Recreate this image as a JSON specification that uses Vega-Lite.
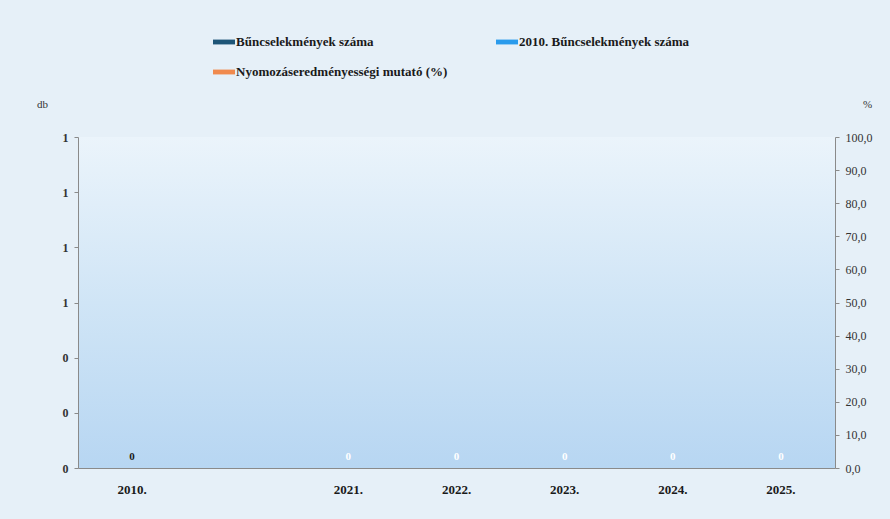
{
  "$schema": "https://vega.github.io/schema/vega-lite/v6.json",
  "width": 757,
  "height": 331,
  "autosize": {"type": "none"},
  "padding": {"left": 78, "top": 137, "right": 55, "bottom": 51},
  "background": "#e6f0f8",
  "config": {
    "font": "Liberation Serif",
    "view": {
      "stroke": null,
      "fill": {"gradient": "linear", "x1": 0, "y1": 0, "x2": 0, "y2": 1,
        "stops": [{"offset": 0, "color": "#ebf4fb"}, {"offset": 0.5, "color": "#d0e5f6"}, {"offset": 1, "color": "#b7d6f2"}]}
    },
    "axis": {"grid": false, "domainColor": "#8a8a8a", "tickColor": "#8a8a8a", "labelFont": "Liberation Serif", "labelColor": "#333333", "titleFont": "Liberation Serif"}
  },
  "data": {
    "values": [
      {"year": "2010.", "series": "Bűncselekmények száma", "value": 0},
      {"year": "2021.", "series": "Bűncselekmények száma", "value": 0},
      {"year": "2022.", "series": "Bűncselekmények száma", "value": 0},
      {"year": "2023.", "series": "Bűncselekmények száma", "value": 0},
      {"year": "2024.", "series": "Bűncselekmények száma", "value": 0},
      {"year": "2025.", "series": "Bűncselekmények száma", "value": 0},
      {"year": "2010.", "series": "Nyomozáseredményességi mutató (%)", "value": null},
      {"year": "2021.", "series": "Nyomozáseredményességi mutató (%)", "value": null},
      {"year": "2022.", "series": "Nyomozáseredményességi mutató (%)", "value": null},
      {"year": "2023.", "series": "Nyomozáseredményességi mutató (%)", "value": null},
      {"year": "2024.", "series": "Nyomozáseredményességi mutató (%)", "value": null},
      {"year": "2025.", "series": "Nyomozáseredményességi mutató (%)", "value": null}
    ]
  },
  "layer": [
    {
      "transform": [{"filter": "datum.series === 'Bűncselekmények száma'"}],
      "encoding": {
        "x": {
          "field": "year", "type": "ordinal",
          "scale": {"domain": ["2010.", " ", "2021.", "2022.", "2023.", "2024.", "2025."], "paddingInner": 0.4, "paddingOuter": 0.2},
          "axis": {"title": null, "labelAngle": 0, "ticks": false, "labelPadding": 15, "labelFontSize": 13, "labelFontWeight": "bold", "labelColor": "#1a1a1a"}
        },
        "y": {
          "field": "value", "type": "quantitative",
          "scale": {"domain": [0, 1.2], "nice": false},
          "axis": {"title": "db", "titleAngle": 0, "titleX": -36, "titleY": -28, "titleFontSize": 11, "titleFontWeight": "normal", "titleColor": "#333333",
                   "values": [0, 0.2, 0.4, 0.6, 0.8, 1.0, 1.2], "format": ".0f", "labelFontSize": 12, "labelFontWeight": "bold", "labelPadding": 6, "tickSize": 4}
        }
      },
      "layer": [
        {
          "mark": {"type": "bar"},
          "encoding": {
            "color": {
              "field": "series", "type": "nominal",
              "scale": {"domain": ["Bűncselekmények száma", "2010. Bűncselekmények száma", "Nyomozáseredményességi mutató (%)"], "range": ["#1d5577", "#2a9bec", "#f08a4e"]},
              "legend": {
                "title": null, "orient": "none", "legendX": 135, "legendY": -106, "direction": "horizontal", "columns": 2,
                "columnPadding": 48, "rowPadding": 12, "labelLimit": 400,
                "symbolType": "M-1,-0.22H1V0.22H-1Z", "symbolSize": 484, "symbolStrokeWidth": 0, "symbolOpacity": 1,
                "labelFont": "Liberation Serif", "labelFontSize": 13, "labelFontWeight": "bold", "labelColor": "#1a1a1a", "labelOffset": 1
              }
            }
          }
        },
        {
          "mark": {"type": "text", "dy": -11, "fontSize": 11, "fontWeight": "bold"},
          "encoding": {
            "text": {"field": "value", "type": "quantitative"},
            "color": {"condition": {"test": "datum.year === '2010.'", "value": "#1a1a1a"}, "value": "#ffffff"}
          }
        }
      ]
    },
    {
      "transform": [{"filter": "datum.series === 'Nyomozáseredményességi mutató (%)'"}],
      "mark": {"type": "line", "color": "#f08a4e"},
      "encoding": {
        "x": {"field": "year", "type": "ordinal"},
        "y": {
          "field": "value", "type": "quantitative",
          "scale": {"domain": [0, 100], "nice": false},
          "axis": {"orient": "right", "title": "%", "titleAngle": 0, "titleX": 32, "titleY": -28, "titleFontSize": 11, "titleFontWeight": "normal", "titleColor": "#333333",
                   "values": [0, 10, 20, 30, 40, 50, 60, 70, 80, 90, 100], "labelExpr": "replace(format(datum.value, '.1f'), '.', ',')",
                   "labelFontSize": 12, "labelPadding": 6, "tickSize": 4}
        }
      }
    }
  ],
  "resolve": {"scale": {"y": "independent"}}
}
